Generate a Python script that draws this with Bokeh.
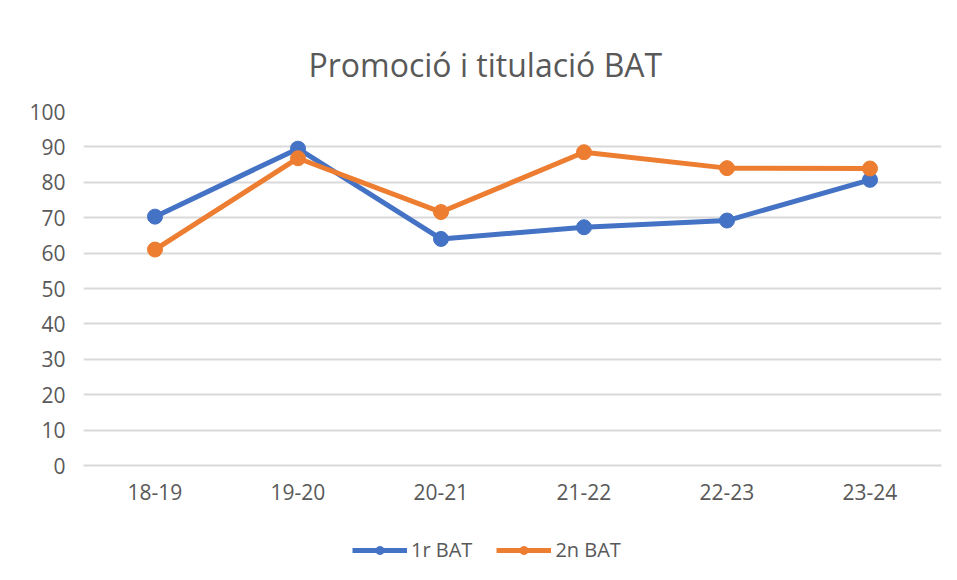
from bokeh.plotting import figure
from bokeh.layouts import column
from bokeh.models import Range1d, FactorRange, Legend, LegendItem, SingleIntervalTicker
from bokeh.embed import file_html
from bokeh.resources import INLINE

categories = ["18-19", "19-20", "20-21", "21-22", "22-23", "23-24"]
bat1 = [70.3, 89.5, 64.0, 67.3, 69.2, 80.7]
bat2 = [61.0, 86.8, 71.6, 88.5, 84.0, 83.9]
series_names = ["1r BAT", "2n BAT"]
title_text = "Promoció i titulació BAT"

BLUE = "#4472C4"
ORANGE = "#ED7D31"
TXT = "#595959"
GRID = "#D9D9D9"
FONT = "Open Sans"

p = figure(width=949, height=514,
           x_range=FactorRange(*categories, range_padding=0),
           y_range=Range1d(0, 100), output_backend="svg", toolbar_location=None,
           min_border_left=83, min_border_right=8, min_border_top=111, min_border_bottom=49)

p.title.text = title_text
p.title.align = "left"
p.title.offset = 225
p.title.text_font = FONT
p.title.text_font_size = "32px"
p.title.text_font_style = "normal"
p.title.text_color = TXT
p.title.standoff = 51

p.outline_line_color = None
p.background_fill_color = "white"
p.border_fill_color = "white"

p.yaxis.ticker = SingleIntervalTicker(interval=10)
for ax in (p.xaxis[0], p.yaxis[0]):
    ax.axis_line_color = None
    ax.major_tick_line_color = None
    ax.minor_tick_line_color = None
    ax.major_tick_out = 0
    ax.major_label_text_font = FONT
    ax.major_label_text_font_size = "21px"
    ax.major_label_text_color = TXT
p.xaxis.axis_line_color = GRID
p.xaxis.axis_line_width = 2
p.yaxis.major_label_standoff = 14
p.xaxis.major_label_standoff = 18

p.xgrid.grid_line_color = None
p.ygrid.grid_line_color = GRID
p.ygrid.grid_line_width = 2

p.line(categories, bat1, line_color=BLUE, line_width=5)
p.scatter(categories, bat1, size=15, fill_color=BLUE, line_color=BLUE)
p.line(categories, bat2, line_color=ORANGE, line_width=5)
p.scatter(categories, bat2, size=15, fill_color=ORANGE, line_color=ORANGE)

# legend strip below the chart (its own series renderers lie outside its view)
q = figure(width=949, height=58, x_range=FactorRange(*categories, range_padding=0),
           y_range=Range1d(200, 300), output_backend="svg", toolbar_location=None,
           min_border=0)
q.axis.visible = False
q.grid.visible = False
q.outline_line_color = None
q.border_fill_color = "white"
l1 = q.line(categories, bat1, line_color=BLUE, line_width=5)
c1 = q.scatter(categories, bat1, size=15, fill_color=BLUE, line_color=BLUE)
l2 = q.line(categories, bat2, line_color=ORANGE, line_width=5)
c2 = q.scatter(categories, bat2, size=15, fill_color=ORANGE, line_color=ORANGE)

legend = Legend(items=[LegendItem(label=series_names[0], renderers=[l1, c1]),
                       LegendItem(label=series_names[1], renderers=[l2, c2])],
                orientation="horizontal", location=(269, 9),
                label_text_font=FONT, label_text_font_size="20px", label_text_color=TXT,
                glyph_width=55, glyph_height=20, label_standoff=4, spacing=24,
                border_line_color=None, background_fill_alpha=0, padding=0, margin=0)
q.add_layout(legend, "center")

open("out.html", "w").write(file_html(column(p, q, spacing=0), INLINE))
